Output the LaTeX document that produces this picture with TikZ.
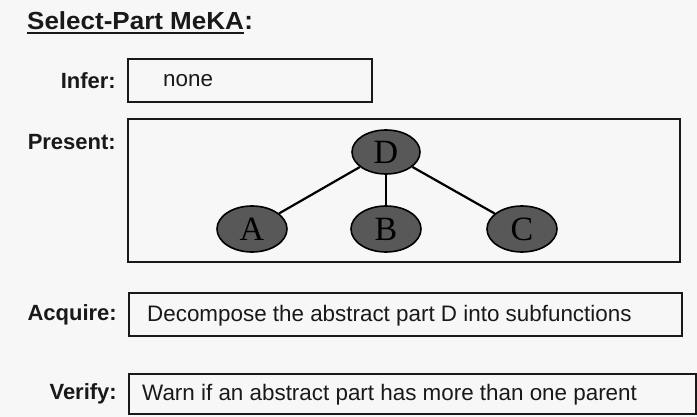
\documentclass[tikz,border=0pt]{standalone}
\usepackage{fontspec}
\setmainfont{Liberation Sans}
\newfontfamily\letterfont{Liberation Serif}
\usetikzlibrary{shapes.geometric}
\definecolor{paper}{RGB}{247,247,247}
\definecolor{ink}{RGB}{25,25,25}
\definecolor{partfill}{RGB}{88,88,88}
\tikzset{
  panel/.style={draw=ink, line width=2pt, rectangle, inner sep=0pt},
  rowlabel/.style={anchor=base east, inner sep=0pt, font=\fontsize{22}{26}\selectfont\bfseries, text=ink},
  boxtext/.style={anchor=base west, inner sep=0pt, font=\fontsize{22.4}{26}\selectfont, text=ink},
  part/.style={ellipse, draw=black, line width=1.6pt, fill=partfill, inner sep=0pt,
    minimum width=70pt, minimum height=46pt, text=black,
    font=\fontsize{34}{36}\selectfont\letterfont},
  link/.style={draw=black, line width=2.2pt}
}
\begin{document}
\begin{tikzpicture}[x=1pt, y=-1pt]
  \fill[paper] (0,0) rectangle (697,417);
  \useasboundingbox (0,0) rectangle (697,417);

  % heading
  \node[anchor=base west, inner sep=0pt, font=\fontsize{26}{30}\selectfont\bfseries, text=ink,
        yscale=0.95]
    (title) at (27,30) {Select-Part MeKA};
  \node[anchor=base west, inner sep=0pt, font=\fontsize{26}{30}\selectfont\bfseries, text=ink]
    (colon) at (title.base east) {:};
  \draw[ink, line width=2pt] ([yshift=-3pt]title.base west) -- ([yshift=-3pt]title.base east);

  % Infer row
  \node[rowlabel] (inferlbl) at (116,89) {Infer:};
  \node[panel, minimum width=244pt, minimum height=43pt] (inferbox) at (250,80.5) {};
  \node[boxtext] (infertxt) at (163,87) {none};

  % Present row with the part tree
  \node[rowlabel] (presentlbl) at (116,150) {Present:};
  \node[panel, minimum width=552pt, minimum height=143pt] (presentbox) at (404,190.5) {};
  \node[part, minimum width=68pt, minimum height=44pt] (D) at (386,152) {D};
  \node[part] (A) at (252,229) {A};
  \node[part] (B) at (386,229) {B};
  \node[part] (C) at (522,229) {C};
  \draw[link] (D) -- (A);
  \draw[link] (D) -- (B);
  \draw[link] (D) -- (C);

  % Acquire row
  \node[rowlabel] (acquirelbl) at (117,320) {Acquire:};
  \node[panel, minimum width=553pt, minimum height=43pt] (acquirebox) at (405.5,314.5) {};
  \node[boxtext] (acquiretxt) at (147,321) {Decompose the abstract part D into subfunctions};

  % Verify row
  \node[rowlabel] (verifylbl) at (117,399) {Verify:};
  \node[panel, minimum width=567pt, minimum height=40pt] (verifybox) at (412.5,394) {};
  \node[boxtext] (verifytxt) at (142,400) {Warn if an abstract part has more than one parent};
\end{tikzpicture}
\end{document}
